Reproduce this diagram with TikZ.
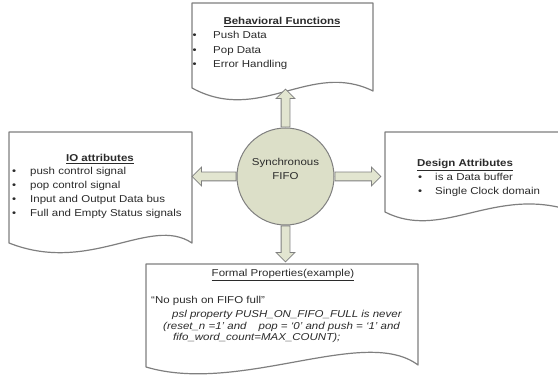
\documentclass[tikz,border=0pt]{standalone}
\usepackage{fontspec}
\setmainfont[FakeStretch=1.15]{Liberation Sans}
\usetikzlibrary{shapes.arrows}
\definecolor{txt}{HTML}{2B2B2B}
\definecolor{bord}{HTML}{7F7F7F}
\definecolor{fillg}{HTML}{DCDFC8}
\definecolor{filla}{HTML}{E2E5D0}
\tikzset{
  doc/.style={draw=bord, line width=1.2pt, fill=white, line join=round},
  lbl/.style={font=\fontsize{10}{12}\selectfont, text=txt, inner sep=0pt, anchor=base west},
  ttl/.style={lbl, anchor=base, font=\fontsize{10}{12}\selectfont\bfseries},
  ttlplain/.style={lbl, anchor=base},
  itl/.style={lbl, font=\fontsize{10}{12}\selectfont\itshape},
  bul/.style={lbl},
  blockarrow/.style={single arrow, draw=bord, fill=filla, line width=0.8pt,
    inner xsep=0pt, inner ysep=4pt, single arrow head extend=5pt,
    single arrow tip angle=90, anchor=tail}
}
\begin{document}
\begin{tikzpicture}[x=1pt,y=-1pt]
\useasboundingbox (0,0) rectangle (558,377);
% documents
\draw[doc] (192,3) -- (373,3) -- (373,91) .. controls (310,60) and (260,125) .. (192,88) -- cycle;
\draw[doc] (9,132) -- (192,132) -- (192,243) .. controls (150,215) and (90,275) .. (9,243) -- cycle;
\draw[doc] (385,132) -- (562,132) -- (562,208) .. controls (490,190) and (440,240) .. (385,212) -- cycle;
\draw[doc] (146,264) -- (418,264) -- (418,365) .. controls (365,325) and (240,395) .. (146,367) -- cycle;
% centre
\node[circle, draw=bord, fill=fillg, line width=1pt, minimum size=97pt, inner sep=0pt] (c) at (285.5,176.5) {};
\node[ttlplain] (c1) at (285.5,165.5) {Synchronous};
\node[ttlplain] (c2) at (285.5,180) {FIFO};
% arrows
\node[blockarrow, rotate=90, minimum height=38pt] (aup) at (c.north) {};
\node[blockarrow, rotate=180, minimum height=44pt] (alf) at (c.west) {};
\node[blockarrow, rotate=0, minimum height=46pt] (art) at (c.east) {};
\node[blockarrow, rotate=-90, minimum height=36pt] (adn) at (c.south) {};
% behavioral
\node[ttl] (bt) at (282,24.5) {\underline{Behavioral Functions}};
\node[bul] (bb1) at (192.5,39) {•};
\node[bul] (bb2) at (192.5,53.5) {•};
\node[bul] (bb3) at (192.5,68) {•};
\node[lbl] (bi1) at (213,39) {Push Data};
\node[lbl] (bi2) at (213,53.5) {Pop Data};
\node[lbl] (bi3) at (213,68) {Error Handling};
% IO
\node[ttl] (it) at (100,161.5) {\underline{IO attributes}};
\node[bul] (ib1) at (12,175) {•};
\node[bul] (ib2) at (12,189) {•};
\node[bul] (ib3) at (12,203) {•};
\node[bul] (ib4) at (12,217) {•};
\node[lbl] (ii1) at (30,175) {push control signal};
\node[lbl] (ii2) at (30,189) {pop control signal};
\node[lbl] (ii3) at (30,203) {Input and Output Data bus};
\node[lbl] (ii4) at (30,217) {Full and Empty Status signals};
% design
\node[ttl] (dt) at (465,167) {\underline{Design Attributes}};
\node[bul] (db1) at (418,181) {•};
\node[bul] (db2) at (418,195) {•};
\node[lbl] (di1) at (435,181) {is a Data buffer};
\node[lbl] (di2) at (435,195) {Single Clock domain};
% formal
\node[ttlplain] (ft) at (283,277) {\underline{Formal Properties(example)}};
\node[lbl] (f1) at (151,304) {“No push on FIFO full”};
\node[itl] (f2) at (172,318) {psl property PUSH\_ON\_FIFO\_FULL is never};
\node[itl] (f3) at (163,329.5) {(reset\_n =1’ and\hspace{12pt}pop = ‘0’ and push = ‘1’ and};
\node[itl] (f4) at (173,341) {fifo\_word\_count=MAX\_COUNT);};
\end{tikzpicture}
\end{document}
